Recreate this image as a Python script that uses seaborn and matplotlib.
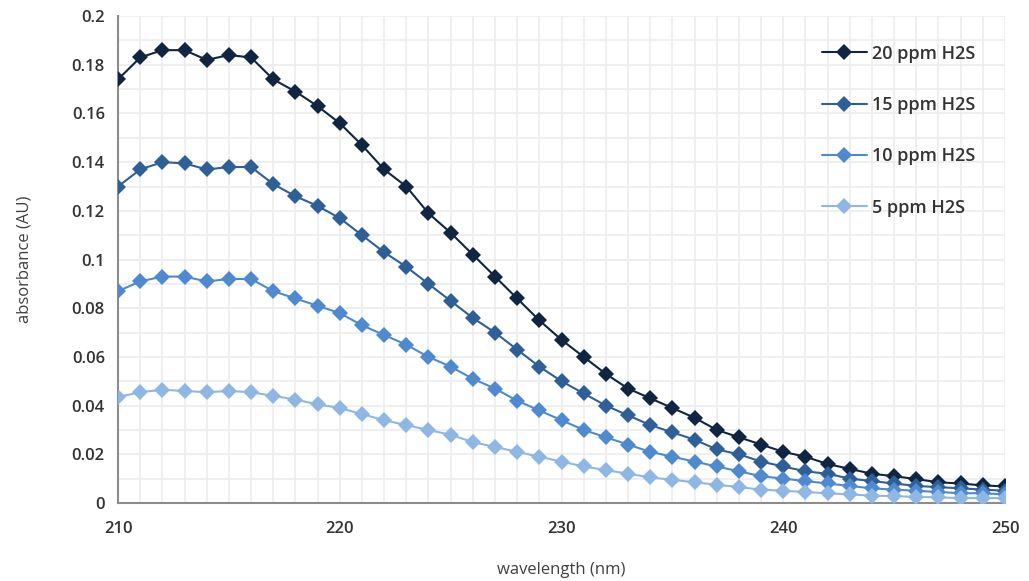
import numpy as np
import pandas as pd
import matplotlib
matplotlib.use("Agg")
import matplotlib.pyplot as plt
import seaborn as sns
from matplotlib.ticker import MultipleLocator

wavelength = list(range(210, 251))

ppm20 = [0.174, 0.183, 0.186, 0.186, 0.182, 0.184, 0.183, 0.174, 0.169, 0.163,
         0.156, 0.147, 0.137, 0.130, 0.119, 0.111, 0.102, 0.093, 0.084, 0.075,
         0.067, 0.060, 0.053, 0.047, 0.043, 0.039, 0.035, 0.030, 0.027, 0.024,
         0.021, 0.019, 0.016, 0.014, 0.012, 0.011, 0.0098, 0.0085, 0.008, 0.0072,
         0.0068]
ppm15 = [0.130, 0.137, 0.140, 0.1395, 0.137, 0.138, 0.138, 0.131, 0.126, 0.122,
         0.117, 0.110, 0.103, 0.097, 0.090, 0.083, 0.076, 0.070, 0.063, 0.056,
         0.050, 0.045, 0.040, 0.036, 0.032, 0.029, 0.026, 0.022, 0.020, 0.017,
         0.015, 0.013, 0.012, 0.010, 0.009, 0.008, 0.007, 0.0065, 0.006, 0.0055,
         0.005]
ppm10 = [0.087, 0.091, 0.093, 0.093, 0.091, 0.092, 0.092, 0.087, 0.084, 0.081,
         0.078, 0.073, 0.069, 0.065, 0.060, 0.056, 0.051, 0.047, 0.042, 0.038,
         0.034, 0.030, 0.027, 0.024, 0.021, 0.019, 0.017, 0.015, 0.013, 0.011,
         0.010, 0.009, 0.008, 0.007, 0.006, 0.0055, 0.005, 0.0045, 0.004, 0.004,
         0.0035]
ppm5 = [0.0435, 0.0455, 0.0465, 0.046, 0.0455, 0.046, 0.0455, 0.044, 0.0425, 0.0405,
        0.039, 0.0365, 0.034, 0.032, 0.030, 0.028, 0.025, 0.023, 0.021, 0.019,
        0.017, 0.015, 0.0135, 0.012, 0.0105, 0.0095, 0.0085, 0.0075, 0.0065, 0.0055,
        0.005, 0.0045, 0.004, 0.0035, 0.003, 0.0028, 0.0025, 0.0023, 0.002, 0.002,
        0.002]

labels = ["20 ppm H2S", "15 ppm H2S", "10 ppm H2S", "5 ppm H2S"]
colors = ["#0f2542", "#2f5f97", "#4f8ad0", "#8fb7e4"]

df = pd.DataFrame({
    "wavelength": wavelength * 4,
    "absorbance": ppm20 + ppm15 + ppm10 + ppm5,
    "series": sum([[l] * len(wavelength) for l in labels], []),
})

sns.set_style("white")
plt.rcParams["font.family"] = ["Open Sans", "DejaVu Sans"]

fig = plt.figure(figsize=(10.29, 5.81), dpi=100)
ax = fig.add_axes([0.1147, 0.1343, 0.862, 0.838])

sns.lineplot(data=df, x="wavelength", y="absorbance", hue="series",
             hue_order=labels, palette=colors, marker="D", markersize=8.5,
             markeredgewidth=0, linewidth=1.5, ax=ax, zorder=3)

ax.set_xlim(210, 250)
ax.set_ylim(0, 0.2)
ax.xaxis.set_major_locator(MultipleLocator(10))
ax.xaxis.set_minor_locator(MultipleLocator(1))
ax.yaxis.set_minor_locator(MultipleLocator(0.01))
ax.set_yticks(np.arange(0, 0.201, 0.02))
ax.set_yticklabels([f"{v:g}" for v in np.round(np.arange(0, 0.201, 0.02), 2)])

ax.grid(which="both", color="#ececec", linewidth=1.2, zorder=0)
ax.set_axisbelow(True)

for s in ["top", "right"]:
    ax.spines[s].set_visible(False)
for s in ["left", "bottom"]:
    ax.spines[s].set_color("#8c8c8c")
    ax.spines[s].set_linewidth(1.5)

ax.tick_params(axis="both", which="major", length=6, width=1.2, color="#8c8c8c",
               labelsize=12, labelcolor="#333333", direction="out")
ax.tick_params(axis="both", which="minor", length=0)
ax.tick_params(axis="x", pad=7)
for t in ax.get_xticklabels() + ax.get_yticklabels():
    t.set_fontweight("semibold")

ax.set_xlabel("wavelength (nm)", fontsize=12, color="#404040", labelpad=18)
ax.set_ylabel("absorbance (AU)", fontsize=12, color="#404040", labelpad=28)

leg = ax.legend(loc="upper right", bbox_to_anchor=(0.985, 0.975), frameon=False,
                fontsize=13, labelspacing=1.85, handlelength=2.5,
                handletextpad=0.3)
for t in leg.get_texts():
    t.set_color("#333333")
    t.set_fontweight("semibold")

fig.savefig("out.png", dpi=100)
